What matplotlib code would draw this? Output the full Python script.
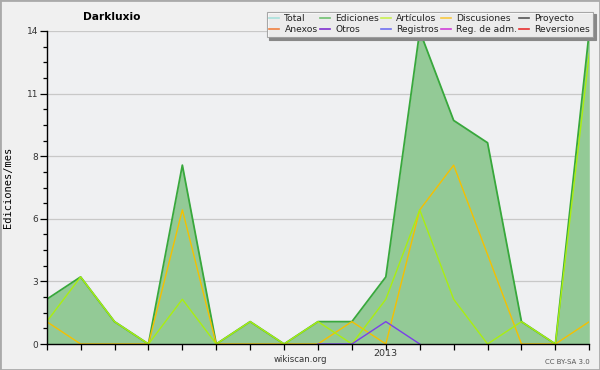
import matplotlib
matplotlib.use("Agg")
import matplotlib.pyplot as plt
from matplotlib.lines import Line2D
from matplotlib.patches import Rectangle
import numpy as np

# Months Mar 2012 .. Jul 2013
months = ["2012-03", "2012-04", "2012-05", "2012-06", "2012-07", "2012-08",
          "2012-09", "2012-10", "2012-11", "2012-12", "2013-01", "2013-02",
          "2013-03", "2013-04", "2013-05", "2013-06", "2013-07"]
ediciones = [2, 3, 1, 0, 8, 0, 1, 0, 1, 1, 3, 14, 10, 9, 1, 0, 14]
articulos = [1, 3, 1, 0, 2, 0, 1, 0, 1, 0, 2, 6, 2, 0, 1, 0, 13]
discusiones = [1, 0, 0, 0, 6, 0, 0, 0, 0, 1, 0, 6, 8, 4, 0, 0, 1]
registros = [0, 0, 0, 0, 0, 0, 0, 0, 0, 0, 1, 0, 0, 0, 0, 0, 0]
xtick_labels = {"2013-01": "2013"}
legend_names = ["Total", "Anexos", "Ediciones", "Otros", "Artículos", "Registros",
                "Discusiones", "Reg. de adm.", "Proyecto", "Reversiones"]
legend_colors = ["#a8e0dc", "#f08040", "#70c070", "#8030d0", "#c8f050", "#7070f0",
                 "#f8c840", "#d040d8", "#555555", "#e83030"]

fig = plt.figure(figsize=(6, 3.7), dpi=100, facecolor="#f0f0f0")
ax = fig.add_axes([46.7 / 600, 1 - 344 / 370, (589.3 - 46.7) / 600, (344 - 31) / 370])
ax.set_facecolor("#eff0f2")

x = np.arange(len(months))
ymax = 14
ax.fill_between(x, ediciones, 0, color="#93ca96", lw=0, zorder=2)
ax.plot(x, ediciones, color="#38a83c", lw=1.3, zorder=3)
ax.plot(x, discusiones, color="#f5c000", lw=1.0, zorder=4)
ax.plot(x, articulos, color="#aaee11", lw=1.0, zorder=5)
ax.plot(x[8:12], registros[8:12], color="#7b3fe8", lw=1.0, zorder=6)

ax.set_xlim(0, len(months) - 1)
ax.set_ylim(0, ymax)
major = np.linspace(0, ymax, 6)
ax.set_yticks(major)
ax.set_yticklabels([f"{v:.0f}" for v in major], fontsize=6.5, color="#333333")
ax.set_yticks(np.arange(0, ymax + 0.01, ymax / 20), minor=True)
ax.set_xticks(x)
ax.set_xticklabels([xtick_labels.get(m, "") for m in months], fontsize=6.8, color="#333333")
ax.tick_params(axis="y", which="major", length=5, width=0.9, pad=1, direction="out")
ax.tick_params(axis="y", which="minor", length=3, width=0.9, direction="out")
ax.tick_params(axis="x", which="major", length=4, width=0.9, pad=-0.5, direction="out")
ax.grid(axis="y", which="major", color="#c8c8c8", lw=0.9, zorder=1)
ax.set_axisbelow(True)
for s in ["top", "right"]:
    ax.spines[s].set_visible(False)
for s in ["left", "bottom"]:
    ax.spines[s].set_color("black")
    ax.spines[s].set_linewidth(1.0)
    ax.spines[s].set_zorder(7)

ax.set_ylabel("Ediciones/mes", fontsize=7.5, family="DejaVu Sans Mono")
ax.yaxis.set_label_coords(-0.062, 0.5)

fig.text(111.5 / 600, 1 - 17 / 370, "Darkluxio", fontsize=7.7, fontweight="bold",
         ha="center", va="center")
fig.text(300 / 600, 1 - 360 / 370, "wikiscan.org", fontsize=6.2, color="#333333",
         ha="center", va="center")
fig.text(590 / 600, 1 - 362 / 370, "CC BY-SA 3.0", fontsize=5, color="#555555",
         ha="right", va="center")

handles = [Line2D([], [], color=c, lw=1.2) for c in legend_colors]
leg = fig.legend(handles, legend_names, ncol=5, loc="upper right",
                 bbox_to_anchor=(593 / 600, 1 - 11.5 / 370), fontsize=6.6,
                 frameon=True, fancybox=False, framealpha=0.85, edgecolor="#999999",
                 shadow={"color": "#888888", "alpha": 1},
                 handlelength=1.1, handletextpad=0.55, columnspacing=0.25,
                 labelspacing=0.2, borderpad=0.3, borderaxespad=0)
leg.get_frame().set_linewidth(0.8)
for t in leg.get_texts():
    t.set_color("#222222")

fig.patches.append(Rectangle((0, 0), 1, 1, transform=fig.transFigure, fill=False,
                             edgecolor="#aaaaaa", lw=2))
fig.savefig("out.png", dpi=100, facecolor=fig.get_facecolor())
